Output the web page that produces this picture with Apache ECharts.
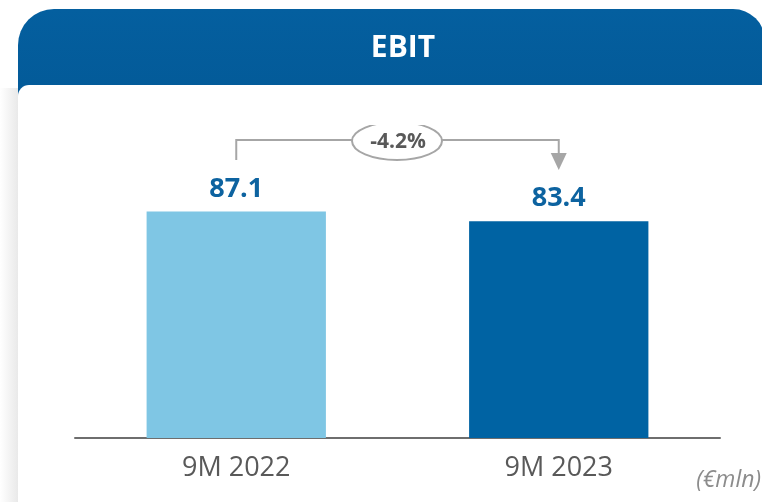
<!DOCTYPE html>
<html>
<head>
<meta charset="utf-8">
<script src="https://cdn.jsdelivr.net/npm/echarts@6/dist/echarts.min.js"></script>
<style>
  html, body { margin: 0; padding: 0; background: #fff; }
  #ebit { width: 762px; height: 502px; }
</style>
</head>
<body>
<div id="ebit"></div>
<script>
// data
const categories = ['9M 2022', '9M 2023']
const ebitValues = [87.1, 83.4]
const barColors = ['#7fc6e4', '#0063a3']
const deltaLabel = '-4.2%'
const unitLabel = '(€mln)'

const chart = echarts.init(document.getElementById('ebit'))

const fontFam = '"Open Sans", "Noto Sans", sans-serif'

chart.setOption({
  animation: false,
  backgroundColor: '#ffffff',
  grid: {
    left: 75,
    right: 42,
    top: 178,
    bottom: 64
  },
  xAxis: {
    type: 'category',
    data: categories,
    axisTick: { show: false },
    axisLine: { lineStyle: { color: '#6e6e6e', width: 2 } },
    axisLabel: {
      color: '#595959',
      fontSize: 27,
      fontFamily: fontFam,
      margin: 17
    }
  },
  yAxis: {
    type: 'value',
    min: 0,
    max: 100,
    show: false
  },
  series: [
    {
      type: 'bar',
      barWidth: '55.6%',
      data: ebitValues.map((v, i) => ({ value: v, itemStyle: { color: barColors[i] } })),
      label: {
        show: true,
        position: 'top',
        distance: 9,
        color: '#0d63a0',
        fontSize: 27,
        fontWeight: 'bold',
        fontFamily: fontFam
      }
    }
  ]
})

// 连接线 + 百分比, 位置从坐标轴换算
function drawDecor() {
  const p0 = chart.convertToPixel({ seriesIndex: 0 }, [0, ebitValues[0]])
  const p1 = chart.convertToPixel({ seriesIndex: 0 }, [1, ebitValues[1]])
  const lineY = 140
  const midX = 397
  const gray = '#a6a6a6'
  chart.setOption({
    graphic: [
      // left shadow strip
      {
        type: 'rect', z: -10, silent: true,
        shape: { x: 0, y: 88, width: 18, height: 420 },
        style: {
          fill: new echarts.graphic.LinearGradient(0, 0, 1, 0, [
            { offset: 0, color: '#ffffff' },
            { offset: 1, color: '#e9e9e9' }
          ])
        }
      },
      // header
      {
        type: 'rect', z: 9, silent: true,
        shape: { x: 18, y: 9, width: 747, height: 90, r: [36, 32, 0, 0] },
        style: {
          fill: new echarts.graphic.LinearGradient(0, 0, 0, 1, [
            { offset: 0, color: '#045f9f' },
            { offset: 1, color: '#035a98' }
          ])
        }
      },
      // white card over header bottom
      {
        type: 'rect', z: 9.5, silent: true,
        shape: { x: 18, y: 85, width: 760, height: 40, r: [11, 0, 0, 0] },
        style: { fill: '#ffffff' }
      },
      {
        type: 'text', z: 11, silent: true,
        x: 403, y: 48,
        style: {
          text: 'EBIT', fill: '#ffffff', fontSize: 30, fontWeight: 'bold',
          fontFamily: fontFam, align: 'center', verticalAlign: 'middle'
        }
      },
      // bracket
      {
        type: 'polyline', silent: true,
        shape: { points: [[p0[0], 160], [p0[0], lineY], [p1[0], lineY], [p1[0], 154]] },
        style: { stroke: gray, lineWidth: 2, fill: null }
      },
      {
        type: 'polygon', silent: true,
        shape: { points: [[p1[0] - 8, 153], [p1[0] + 8, 153], [p1[0], 170]] },
        style: { fill: gray }
      },
      {
        type: 'ellipse', silent: true,
        shape: { cx: midX, cy: 141, rx: 45, ry: 19 },
        style: { fill: '#ffffff', stroke: gray, lineWidth: 2 }
      },
      {
        type: 'text', silent: true,
        x: midX + 1, y: 142,
        style: {
          text: deltaLabel, fill: '#595959', fontSize: 21, fontWeight: 'bold',
          fontFamily: fontFam, align: 'center', verticalAlign: 'middle'
        }
      },
      // unit
      {
        type: 'text', silent: true,
        x: 761, y: 480,
        style: {
          text: unitLabel, fill: '#8c8c8c', fontSize: 23, fontStyle: 'italic',
          fontFamily: fontFam, align: 'right', verticalAlign: 'middle'
        }
      }
    ]
  })
}
drawDecor()
</script>
</body>
</html>
